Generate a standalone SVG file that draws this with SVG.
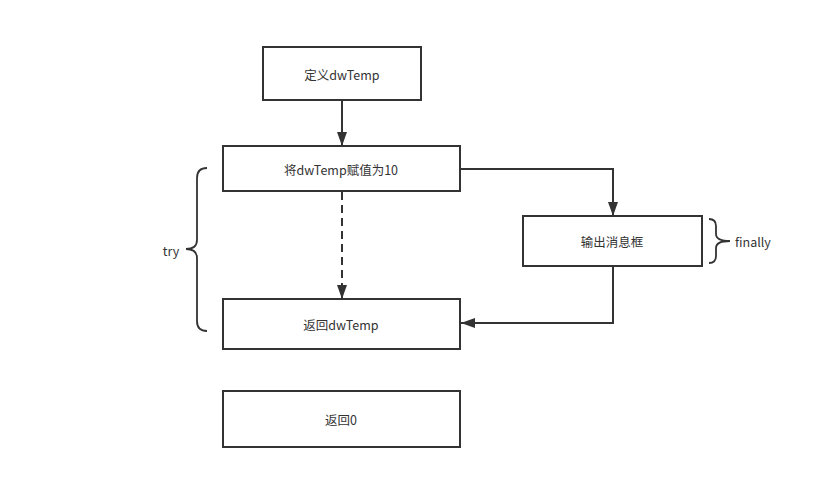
<svg xmlns="http://www.w3.org/2000/svg" width="813" height="479" viewBox="0 0 813 479">
<style>
.box{fill:#fff;stroke:#333;stroke-width:2}
.t{font-family:"Noto Sans CJK SC","Noto Sans",sans-serif;font-size:12.5px;fill:#333;text-anchor:middle;dominant-baseline:central}
.c{fill:none;stroke:#333;stroke-width:2}
.br{fill:none;stroke:#333;stroke-width:1.8}
</style>
<defs>
<marker id="ah" markerWidth="14" markerHeight="10" refX="14" refY="5" orient="auto" markerUnits="userSpaceOnUse" viewBox="0 0 14 10">
<path d="M0,0 L14,5 L0,10 Z" fill="#333"/>
</marker>
</defs>
<rect width="813" height="479" fill="#fff"/>
<g id="connectors">
<line class="c" x1="342" y1="100" x2="342" y2="146" marker-end="url(#ah)"/>
<line class="c" x1="342" y1="192" x2="342" y2="299" stroke-dasharray="8,5" marker-end="url(#ah)"/>
<polyline class="c" points="460,169 613,169 613,216" marker-end="url(#ah)"/>
<polyline class="c" points="613,266 613,323 461,323" marker-end="url(#ah)"/>
</g>
<g id="n1"><rect class="box" x="263" y="47" width="158" height="53"/><text class="t" x="342" y="74">定义dwTemp</text></g>
<g id="n2"><rect class="box" x="223" y="146" width="237" height="45"/><text class="t" x="341" y="169">将dwTemp赋值为10</text></g>
<g id="n3"><rect class="box" x="223" y="299" width="237" height="50"/><text class="t" x="341" y="324">返回dwTemp</text></g>
<g id="n4"><rect class="box" x="223" y="391" width="237" height="56"/><text class="t" x="341" y="419">返回0</text></g>
<g id="n5"><rect class="box" x="523" y="216" width="179" height="50"/><text class="t" x="612" y="241">输出消息框</text></g>
<g id="try">
<path class="br" d="M207,168 Q197,168 197,178 L197,240 Q197,249 186,249 Q197,249 197,258 L197,321 Q197,331 207,331"/>
<text class="t" x="171" y="250">try</text>
</g>
<g id="finally">
<path class="br" d="M709,219 Q716,219 716,226 L716,234 Q716,241 730,241 Q716,241 716,248 L716,256 Q716,263 709,263"/>
<text class="t" x="753" y="241">finally</text>
</g>
</svg>
